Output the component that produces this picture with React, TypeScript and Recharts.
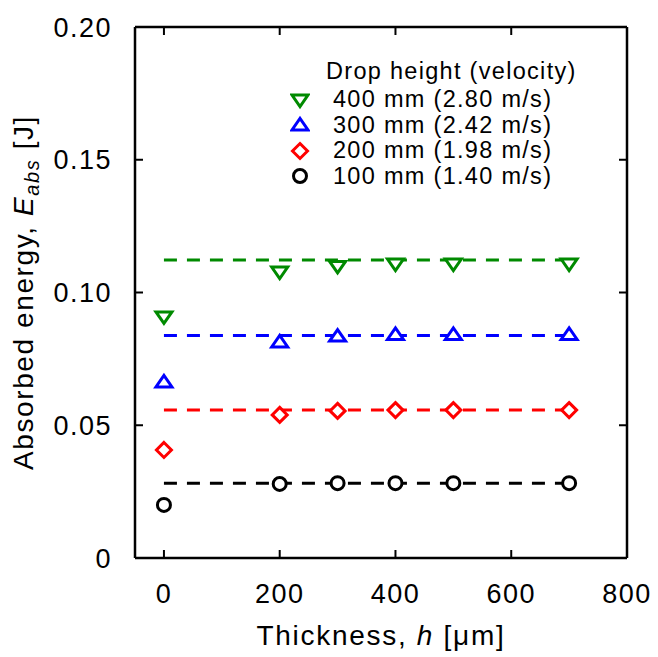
import { ScatterChart, Scatter, XAxis, YAxis, ReferenceLine, Legend } from 'recharts';

// thickness h [um] and absorbed energy [J] per drop height
const thickness = [0, 200, 300, 400, 500, 700];
const energy400 = [0.0908, 0.1077, 0.1098, 0.1107, 0.1107, 0.1107];
const energy300 = [0.0663, 0.0814, 0.0836, 0.0842, 0.0842, 0.0842];
const energy200 = [0.0407, 0.0539, 0.0554, 0.0557, 0.0557, 0.0557];
const energy100 = [0.0200, 0.0279, 0.0282, 0.0282, 0.0282, 0.0282];

// dashed plateau levels, drawn from h=0 to h=700
const plateau = [0.1122, 0.0838, 0.0557, 0.0282];
const plateauFrom = 0;
const plateauTo = 700;

const seriesNames = ['400 mm (2.80 m/s)', '300 mm (2.42 m/s)', '200 mm (1.98 m/s)', '100 mm (1.40 m/s)'];
const legendTitle = 'Drop height (velocity)';

const xDomain = [-50, 800];
const yDomain = [0, 0.2];
const xTicks = [0, 200, 400, 600, 800];
const yTicks = [0, 0.05, 0.1, 0.15, 0.2];

const FONT = '"Liberation Sans", Arial, Helvetica, sans-serif';
const TICK_LEN = 8;

const series = [
    { name: seriesNames[0], values: energy400, level: plateau[0], color: '#008a00', kind: 'down' },
    { name: seriesNames[1], values: energy300, level: plateau[1], color: '#0000ff', kind: 'up' },
    { name: seriesNames[2], values: energy200, level: plateau[2], color: '#ff0000', kind: 'diamond' },
    { name: seriesNames[3], values: energy100, level: plateau[3], color: '#000000', kind: 'circle' },
];

function Marker({ kind, cx, cy, color }: { kind: string, cx: number, cy: number, color: string }) {
    const common = { fill: '#fff', stroke: color, strokeWidth: 3, strokeLinejoin: 'miter' as const };
    if (kind === 'down') {
        return <polygon points={`${cx - 8},${cy - 5} ${cx + 8},${cy - 5} ${cx},${cy + 6.5}`} {...common} />;
    }
    if (kind === 'up') {
        return <polygon points={`${cx - 8},${cy + 5} ${cx + 8},${cy + 5} ${cx},${cy - 6.5}`} {...common} />;
    }
    if (kind === 'diamond') {
        return <polygon points={`${cx},${cy - 7.5} ${cx + 7.5},${cy} ${cx},${cy + 7.5} ${cx - 7.5},${cy}`} {...common} />;
    }
    return <circle cx={cx} cy={cy} r={6.5} {...common} />;
}

// short inward tick at the top end of a vertical reference line
function TopTick(props: any) {
    const { x1, y1, y2 } = props;
    const top = Math.min(y1, y2);
    return <line x1={x1} y1={top} x2={x1} y2={top + TICK_LEN} stroke="#000" strokeWidth={2} />;
}

// short inward tick at the right end of a horizontal reference line
function RightTick(props: any) {
    const { x1, x2, y1 } = props;
    const right = Math.max(x1, x2);
    return <line x1={right} y1={y1} x2={right - TICK_LEN} y2={y1} stroke="#000" strokeWidth={2} />;
}

function renderLegend() {
    return (
        <div style={{ fontFamily: FONT, fontSize: 23.5, letterSpacing: 1.3, lineHeight: '25.5px', color: '#000' }}>
            <div style={{ paddingLeft: 46, marginBottom: 2.5, whiteSpace: 'nowrap' }}>{legendTitle}</div>
            {series.map((s) => (
                <div key={s.name} style={{ display: 'flex', alignItems: 'center', height: 25.5, whiteSpace: 'nowrap' }}>
                    <svg width={20} height={20} style={{ marginLeft: 10, marginRight: 23 }}>
                        <Marker kind={s.kind} cx={10} cy={10} color={s.color} />
                    </svg>
                    <span>{s.name}</span>
                </div>
            ))}
        </div>
    );
}

function XTitle(props: any) {
    const { x, y, width } = props.viewBox;
    return (
        <text x={x + width / 2} y={y + 87} textAnchor="middle" fontFamily={FONT} fontSize={28} letterSpacing={1.7} fill="#000">
            Thickness, <tspan fontStyle="italic">h</tspan> [μm]
        </text>
    );
}

function YTitle(props: any) {
    const { x, y, height } = props.viewBox;
    const cx = x + 33;
    const cy = y + height / 2;
    return (
        <text x={cx} y={cy} transform={`rotate(-90, ${cx}, ${cy})`} textAnchor="middle" fontFamily={FONT} fontSize={28} letterSpacing={1.6} fill="#000">
            Absorbed energy, <tspan fontStyle="italic">E</tspan>
            <tspan fontStyle="italic" fontSize={20} dy={6}>abs</tspan>
            <tspan dy={-6}> [J]</tspan>
        </text>
    );
}

const tickStyle = { fontSize: 27, fill: '#000', fontFamily: FONT, letterSpacing: 1.5 };
const axisLine = { stroke: '#000', strokeWidth: 2.5 };
const tickLine = { stroke: '#000', strokeWidth: 2 };

export default function App() {
    return (
        <div style={{ position: 'absolute', left: 0, top: 0, background: '#fff' }}>
            <ScatterChart width={658} height={657} margin={{ top: 27, right: 31, bottom: 0, left: 0 }}>
                <XAxis
                    dataKey="h"
                    type="number"
                    domain={xDomain}
                    ticks={xTicks}
                    height={99}
                    axisLine={axisLine}
                    tickLine={tickLine}
                    tickSize={-TICK_LEN}
                    tickMargin={34}
                    tick={tickStyle}
                    label={<XTitle />}
                />
                <YAxis
                    dataKey="e"
                    type="number"
                    domain={yDomain}
                    ticks={yTicks}
                    width={135}
                    axisLine={axisLine}
                    tickLine={tickLine}
                    tickSize={-TICK_LEN}
                    tickMargin={31}
                    tick={tickStyle}
                    tickFormatter={(v: number) => (v === 0 ? '0' : v.toFixed(2))}
                    label={<YTitle />}
                />
                {/* frame: top and right border */}
                <ReferenceLine y={yDomain[1]} stroke="#000" strokeWidth={2.5} ifOverflow="visible" />
                <ReferenceLine x={xDomain[1]} stroke="#000" strokeWidth={2.5} ifOverflow="visible" />
                {/* mirrored inward ticks on top and right */}
                {xTicks.map((t) => (
                    <ReferenceLine key={'tx' + t} x={t} ifOverflow="visible" shape={TopTick} />
                ))}
                {yTicks.map((t) => (
                    <ReferenceLine key={'ty' + t} y={t} ifOverflow="visible" shape={RightTick} />
                ))}
                {series.map((s) => (
                    <ReferenceLine
                        key={'fit-' + s.name}
                        segment={[{ x: plateauFrom, y: s.level }, { x: plateauTo, y: s.level }]}
                        stroke={s.color}
                        strokeWidth={3}
                        strokeDasharray="13 10"
                    />
                ))}
                {series.map((s) => (
                    <Scatter
                        key={s.name}
                        name={s.name}
                        data={thickness.map((h, i) => ({ h, e: s.values[i] }))}
                        isAnimationActive={false}
                        shape={(p: any) => <Marker kind={s.kind} cx={p.cx} cy={p.cy} color={s.color} />}
                    />
                ))}
                <Legend
                    layout="vertical"
                    align="center"
                    verticalAlign="middle"
                    wrapperStyle={{ left: 280, top: 59, width: 320 }}
                    content={renderLegend}
                />
            </ScatterChart>
        </div>
    );
}
